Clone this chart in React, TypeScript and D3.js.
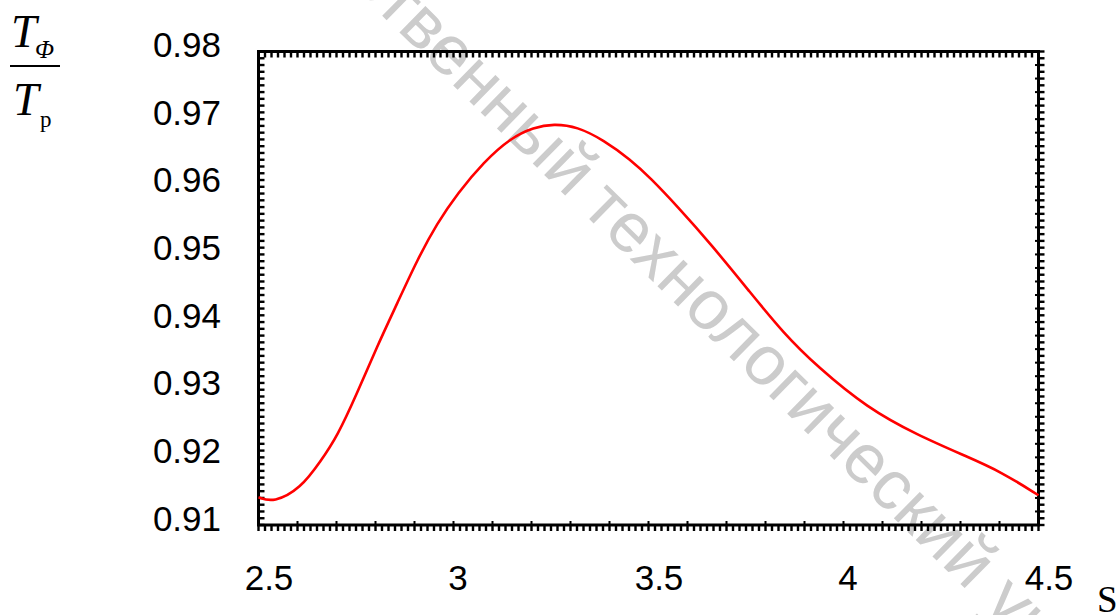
import React from 'react';
import * as d3 from 'd3';

// values
const sValues = [2.5, 2.539, 2.608, 2.659, 2.702, 2.753, 2.804, 2.856, 2.907, 2.958, 3.01, 3.078, 3.146, 3.206, 3.257, 3.317, 3.385, 3.454, 3.505, 3.574, 3.659, 3.762, 3.847, 3.933, 4.061, 4.189, 4.317, 4.403, 4.5];
const ratioValues = [0.9141, 0.9133, 0.9154, 0.9194, 0.9231, 0.9295, 0.9364, 0.9428, 0.9492, 0.9546, 0.959, 0.9637, 0.9672, 0.9688, 0.9693, 0.9689, 0.9669, 0.964, 0.9613, 0.9571, 0.9516, 0.9443, 0.9383, 0.9334, 0.9273, 0.9233, 0.9201, 0.9179, 0.9144];
const xTickLabels = ['2.5', '3', '3.5', '4', '4.5'];
const yTickLabels = ['0.98', '0.97', '0.96', '0.95', '0.94', '0.93', '0.92', '0.91'];

const W = 1118;
const H = 615;

export default function App() {
  const x = d3.scaleLinear().domain([2.5, 4.5]).range([258.5, 1038.5]);
  const y = d3.scaleLinear().domain([0.91, 0.98]).range([525, 51.5]);

  const pts: [number, number][] = sValues.map((s, i) => [s, ratioValues[i]]);
  const line = d3.line<[number, number]>()
    .x(d => x(d[0]))
    .y(d => y(d[1]))
    .curve(d3.curveBasis);

  // minor ticks: x every 1/60, y every 0.001
  const xMinor = d3.range(0, 121).map(i => 2.5 + i / 60);
  const yMinor = d3.range(0, 71).map(i => 0.91 + i * 0.001);

  const [x0, x1] = x.range();
  const [yBot, yTop] = y.range();
  const sans = '"Liberation Sans", Arial, sans-serif';
  const serif = '"Liberation Serif", "Times New Roman", serif';

  return (
    <svg width={W} height={H} style={{ position: 'absolute', left: 0, top: 0, background: '#fff' }}>
      {/* watermark */}
      <g fill="#cccccc" fontFamily={sans} fontSize={70}>
        <text transform="translate(580,210) rotate(44.5)" textAnchor="end" x={-16}>Белорусский государственный</text>
        <text transform="translate(580,210) rotate(44.5)">технологический университет</text>
      </g>

      {/* ticks */}
      <g fill="#000">
        {xMinor.map((v, i) => (
          <g key={'xt' + i}>
            <rect x={x(v) - 1.2} y={yBot + 1} width={2.4} height={5} />
            <rect x={x(v) - 1.2} y={yTop + 1} width={2.4} height={5} />
            {i % 6 === 0 && <rect x={x(v) - 1} y={yBot - 4} width={2} height={4} />}
          </g>
        ))}
        {yMinor.map((v, i) => (
          <g key={'yt' + i}>
            <rect x={x0 + 1} y={y(v) - 1.2} width={5} height={2.4} />
            <rect x={x1 + 1} y={y(v) - 1.2} width={5} height={2.4} />
            {i % 2 === 0 && <rect x={x1 - 3.5} y={y(v) - 1} width={3.5} height={2} />}
          </g>
        ))}
      </g>

      {/* frame */}
      <rect x={x0} y={yTop} width={x1 - x0} height={yBot - yTop} fill="none" stroke="#000" strokeWidth={3} />

      {/* curve */}
      <path d={line(pts) ?? ''} fill="none" stroke="#ff0000" strokeWidth={2.6} />

      {/* y tick labels */}
      <g fontFamily={sans} fontSize={35} textAnchor="end" fill="#000">
        {yTickLabels.map(t => (
          <text key={t} x={221} y={y(+t) + 5.5}>{t}</text>
        ))}
      </g>

      {/* x tick labels */}
      <g fontFamily={sans} fontSize={35} textAnchor="middle" fill="#000">
        {xTickLabels.map(t => (
          <text key={t} x={x(+t) + (t.includes('.') ? 10.5 : 4.5)} y={590}>{t}</text>
        ))}
      </g>

      {/* axis titles */}
      <text x={1097} y={612} fontFamily={serif} fontSize={37}>S</text>
      <g fontFamily={serif} fill="#000">
        <text x={11} y={47} fontSize={46} fontStyle="italic">T</text>
        <text x={35} y={58} fontSize={25} fontStyle="italic">Φ</text>
        <line x1={10} x2={60} y1={66} y2={66} stroke="#000" strokeWidth={2} />
        <text x={13} y={115} fontSize={46} fontStyle="italic">T</text>
        <text x={40} y={127} fontSize={23}>p</text>
      </g>
    </svg>
  );
}
